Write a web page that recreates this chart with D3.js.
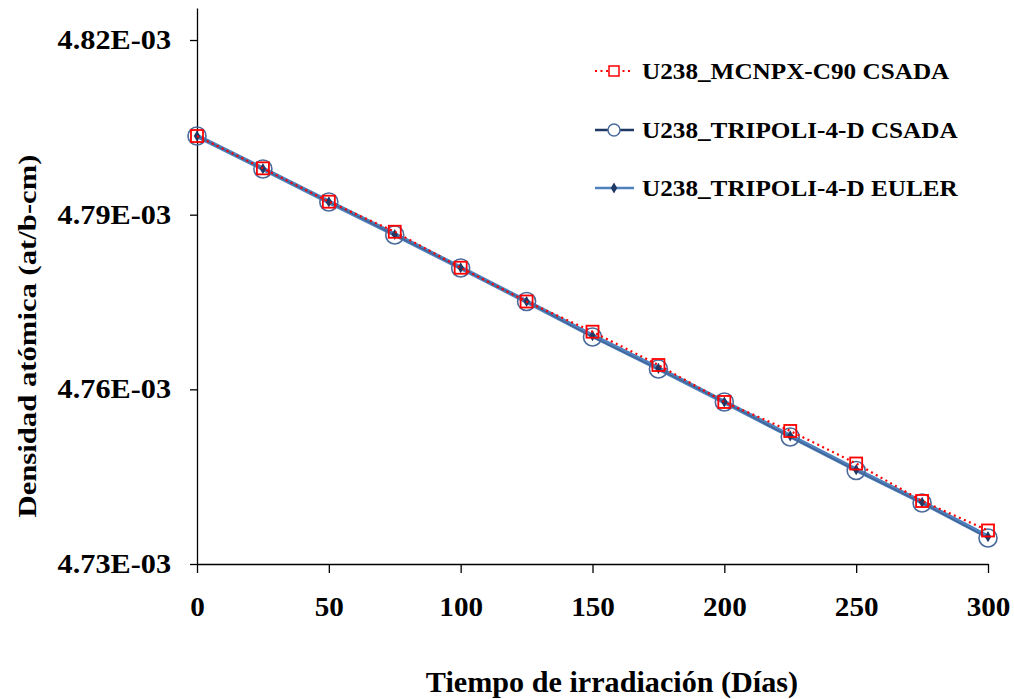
<!DOCTYPE html>
<html>
<head>
<meta charset="utf-8">
<script src="https://cdn.jsdelivr.net/npm/d3@7"></script>
<style>
  body { margin: 0; background: #fff; }
  svg text { font-family: "Liberation Serif", "Times New Roman", serif; font-weight: bold; fill: #000; }
</style>
</head>
<body>
<svg id="chart" width="1014" height="699"></svg>
<script>
// days of irradiation
const days = [0, 25, 50, 75, 100, 125, 150, 175, 200, 225, 250, 275, 300];

// atomic density values, in units of 1E-03 at/b-cm
const mcnpxCsada = [4.80351, 4.79796, 4.79223, 4.78707, 4.78089, 4.77509, 4.76990,
                    4.76418, 4.75783, 4.75285, 4.74726, 4.74082, 4.73576];
const tripoliCsada = [4.80351, 4.79784, 4.79218, 4.78651, 4.78084, 4.77509, 4.76899,
                      4.76349, 4.75783, 4.75181, 4.74606, 4.74048, 4.73447];
const tripoliEuler = [4.80351, 4.79790, 4.79220, 4.78660, 4.78088, 4.77509, 4.76920,
                      4.76360, 4.75783, 4.75200, 4.74620, 4.74060, 4.73470];

const yTicks = [4.73, 4.76, 4.79, 4.82];
const xTicks = [0, 50, 100, 150, 200, 250, 300];
const legendLabels = ["U238_MCNPX-C90 CSADA", "U238_TRIPOLI-4-D CSADA", "U238_TRIPOLI-4-D EULER"];

const svg = d3.select("#chart");

// the source font is a bit wider than Liberation Serif, stretch glyphs a little
function widen(sel, k) {
    sel.each(function () {
        const w = this.getComputedTextLength();
        d3.select(this).attr("textLength", w * k).attr("lengthAdjust", "spacingAndGlyphs");
    });
}

const x = d3.scaleLinear().domain([0, 300]).range([197, 988]);
const y = d3.scaleLinear().domain([4.73, 4.8255]).range([564, 8]);

// axes
const xAxis = svg.append("g")
    .attr("transform", `translate(0,${y(4.73)})`)
    .call(d3.axisBottom(x).tickValues(xTicks).tickSize(9).tickPadding(24).tickSizeOuter(0));
const yAxis = svg.append("g")
    .attr("transform", `translate(${x(0)},0)`)
    .call(d3.axisLeft(y).tickValues(yTicks).tickSize(7).tickPadding(19).tickSizeOuter(0)
        .tickFormat(d => d.toFixed(2) + "E-03"));

[xAxis, yAxis].forEach(a => {
    a.select(".domain").attr("stroke", "#000").attr("stroke-width", 1.3);
    a.selectAll(".tick line").attr("stroke", "#000").attr("stroke-width", 1.3);
    a.selectAll(".tick text").style("font-size", "27px").attr("font-family", null);
});
xAxis.selectAll(".tick text").attr("dy", "0.71em");
widen(yAxis.selectAll(".tick text"), 1.12);
widen(xAxis.selectAll(".tick text"), 1.08);

// axis titles
const xTitle = svg.append("text")
    .attr("x", 612).attr("y", 692)
    .attr("text-anchor", "middle")
    .style("font-size", "29px")
    .text("Tiempo de irradiación (Días)");
widen(xTitle, 1.04);

const yTitle = svg.append("text")
    .attr("transform", "translate(36,336) rotate(-90)")
    .attr("text-anchor", "middle")
    .style("font-size", "26px")
    .text("Densidad atómica (at/b-cm)");
widen(yTitle, 1.18);

const line = d3.line().x((d, i) => x(days[i])).y(d => y(d));

// EULER series (light blue thick line + dark diamonds)
svg.append("path").datum(tripoliEuler)
    .attr("d", line).attr("fill", "none")
    .attr("stroke", "#4F81BD").attr("stroke-width", 4.5);

// TRIPOLI CSADA (navy line, hollow circles)
svg.append("path").datum(tripoliCsada)
    .attr("d", line).attr("fill", "none")
    .attr("stroke", "#3F5F8F").attr("stroke-width", 1.2);

svg.append("g").selectAll("circle")
    .data(tripoliCsada).join("circle")
    .attr("cx", (d, i) => x(days[i])).attr("cy", d => y(d))
    .attr("r", 9).attr("fill", "none")
    .attr("stroke", "#4A6A9C").attr("stroke-width", 1.6);

const diamond = d3.symbol().type(d3.symbolDiamond).size(36);
svg.append("g").selectAll("path")
    .data(tripoliEuler).join("path")
    .attr("d", diamond)
    .attr("transform", (d, i) => `translate(${x(days[i])},${y(d)})`)
    .attr("fill", "#1F3864");

// MCNPX series (red dotted line, hollow squares)
svg.append("path").datum(mcnpxCsada)
    .attr("d", line).attr("fill", "none")
    .attr("stroke", "#FF0000").attr("stroke-width", 2.2)
    .attr("stroke-dasharray", "2,3.5");

svg.append("g").selectAll("rect")
    .data(mcnpxCsada).join("rect")
    .attr("x", (d, i) => x(days[i]) - 6).attr("y", d => y(d) - 6)
    .attr("width", 12).attr("height", 12)
    .attr("fill", "none").attr("stroke", "#FF0000").attr("stroke-width", 1.8);

// legend
const legendY = [71, 130, 188];
const lg = svg.append("g");
legendLabels.forEach((label, i) => {
    const g = lg.append("g").attr("transform", `translate(0,${legendY[i]})`);
    if (i === 0) {
        g.append("line").attr("x1", 595).attr("x2", 632).attr("y1", 0).attr("y2", 0)
            .attr("stroke", "#FF0000").attr("stroke-width", 2.2).attr("stroke-dasharray", "2,3.5");
        g.append("rect").attr("x", 609).attr("y", -5).attr("width", 10).attr("height", 10)
            .attr("fill", "#fff").attr("stroke", "#FF0000").attr("stroke-width", 1.5);
    } else if (i === 1) {
        g.append("line").attr("x1", 595).attr("x2", 634).attr("y1", 0).attr("y2", 0)
            .attr("stroke", "#1F3864").attr("stroke-width", 2.5);
        g.append("circle").attr("cx", 614).attr("cy", 0).attr("r", 6)
            .attr("fill", "#fff").attr("stroke", "#4A6A9C").attr("stroke-width", 1.5);
    } else {
        g.append("line").attr("x1", 595).attr("x2", 634).attr("y1", 0).attr("y2", 0)
            .attr("stroke", "#4F81BD").attr("stroke-width", 2.5);
        g.append("path").attr("d", diamond).attr("transform", "translate(614,0)")
            .attr("fill", "#1F3864");
    }
    const t = g.append("text").attr("x", 642).attr("y", 0).attr("dy", "0.35em")
        .style("font-size", "24px").text(label);
    widen(t, 1.05);
});
</script>
</body>
</html>
